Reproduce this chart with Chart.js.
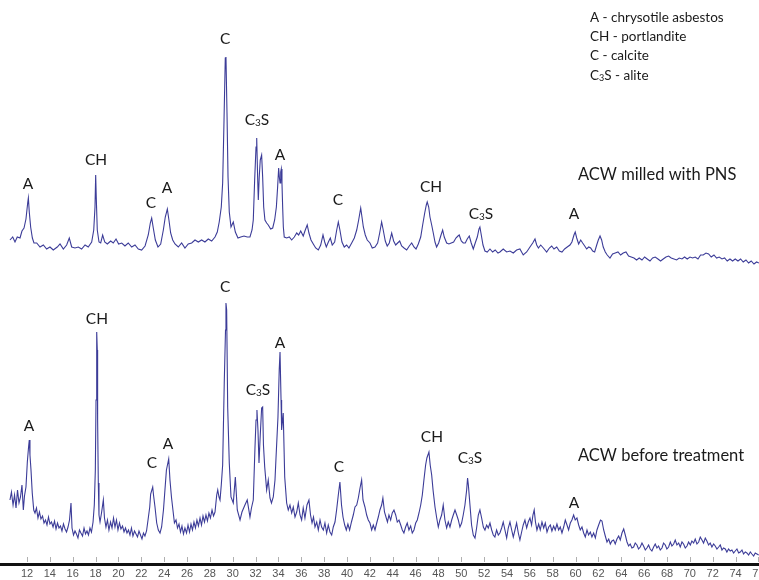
<!DOCTYPE html>
<html>
<head>
<meta charset="utf-8">
<script src="https://cdn.jsdelivr.net/npm/chart.js@4.4.1/dist/chart.umd.min.js"></script>
<style>
  html, body { margin: 0; padding: 0; background: #fff; overflow: hidden; }
  #wrap { width: 759px; height: 580px; position: relative; }
</style>
</head>
<body>
<div id="wrap"><canvas id="chart"></canvas></div>
<script>
// [2theta (deg), intensity (a.u.)] (ACW milled with PNS)
const milledScan = [
  [10.51,44],[10.75,47],[10.95,42],[11.15,47],[11.39,46],[11.56,53],[11.74,56],[11.91,65],[12.06,81],[12.12,86],[12.20,72],[12.32,57],[12.47,46],[12.61,41],[12.85,41],[13.14,37],[13.43,39],[13.72,35],[14.01,37],[14.30,34],[14.65,37],[14.89,40],[15.18,35],[15.47,39],[15.70,46],[15.91,37],[16.20,36],[16.49,37],[16.78,35],[17.08,39],[17.36,37],[17.66,42],[17.84,54],[17.95,77],[18.01,109],[18.06,87],[18.15,54],[18.30,42],[18.45,41],[18.62,49],[18.80,42],[19.03,40],[19.32,43],[19.55,41],[19.79,45],[20.02,40],[20.29,41],[20.57,38],[20.86,41],[21.16,37],[21.45,39],[21.74,35],[22.03,34],[22.33,38],[22.61,49],[22.79,61],[22.91,66],[23.05,56],[23.23,44],[23.46,37],[23.70,40],[23.93,54],[24.10,67],[24.28,75],[24.42,64],[24.57,51],[24.75,44],[24.95,40],[25.24,37],[25.53,41],[25.82,36],[26.11,40],[26.41,41],[26.70,44],[26.99,42],[27.28,44],[27.57,42],[27.86,45],[28.16,43],[28.45,47],[28.65,52],[28.82,62],[29.00,77],[29.12,101],[29.24,164],[29.35,226],[29.41,227],[29.50,171],[29.59,107],[29.70,72],[29.85,57],[30.05,62],[30.23,52],[30.46,46],[30.70,47],[30.99,48],[31.27,47],
  [31.51,47],[31.69,54],[31.80,64],[31.92,104],[32.04,137],[32.10,146],[32.18,107],[32.24,84],[32.32,107],[32.41,124],[32.53,129],[32.62,107],[32.71,77],[32.82,64],[32.97,61],[33.11,59],[33.32,55],[33.50,56],[33.67,64],[33.82,77],[33.93,97],[34.02,116],[34.08,107],[34.14,101],[34.20,112],[34.25,115],[34.31,101],[34.37,77],[34.43,57],[34.51,47],[34.72,46],[34.95,47],[35.16,44],[35.39,47],[35.60,51],[35.77,49],[35.95,53],[36.17,48],[36.35,54],[36.52,59],[36.67,51],[36.85,44],[37.05,40],[37.26,36],[37.49,34],[37.70,39],[37.90,49],[38.05,42],[38.19,37],[38.37,42],[38.54,46],[38.71,39],[38.92,42],[39.10,54],[39.24,62],[39.38,54],[39.56,42],[39.76,37],[39.97,39],[40.17,36],[40.41,41],[40.64,46],[40.85,54],[41.02,64],[41.20,76],[41.31,67],[41.43,57],[41.60,49],[41.77,44],[42.01,41],[42.21,36],[42.45,37],[42.68,41],[42.86,51],[43.03,62],[43.17,54],[43.35,43],[43.52,38],[43.70,41],[43.91,51],[44.08,43],[44.26,39],[44.43,41],[44.61,43],[44.78,38],[44.99,36],[45.22,34],[45.45,38],[45.66,41],[45.86,37],[46.04,35],[46.24,40],[46.45,47],[46.62,59],[46.80,71],[46.94,79],[47.02,82],[47.15,77],[47.26,67],[47.41,59],[47.55,51],[47.70,42],[47.84,37],[48.02,41],[48.20,48],[48.37,54],[48.51,47],[48.72,41],[48.92,40],[49.12,41],[49.33,42],[49.53,46],[49.71,48],[49.82,49],[50.00,43],[50.17,41],[50.35,41],[50.52,45],[50.70,48],[50.87,41],[51.05,35],[51.22,41],[51.40,47],[51.55,55],[51.63,57],[51.75,49],[51.90,39],[52.07,33],[52.27,32],[52.51,35],[52.74,32],[52.97,34],[53.21,31],
  [53.38,32],[53.67,35],[53.97,32],[54.26,33],[54.55,31],[54.84,34],[55.13,35],[55.42,29],[55.72,32],[56.01,37],[56.25,41],[56.45,45],[56.60,39],[56.75,36],[56.95,39],[57.18,36],[57.47,32],[57.71,36],[57.91,38],[58.11,35],[58.35,37],[58.58,33],[58.81,32],[59.04,35],[59.27,37],[59.51,39],[59.68,42],[59.86,49],[59.97,52],[60.10,46],[60.27,40],[60.45,44],[60.62,41],[60.80,38],[60.97,35],[61.15,37],[61.32,36],[61.50,33],[61.67,32],[61.85,39],[61.99,44],[62.14,48],[62.28,44],[62.42,37],[62.60,32],[62.77,29],[63.01,26],[63.24,30],[63.47,31],[63.71,32],[63.94,29],[64.17,31],[64.41,32],[64.64,28],[64.87,27],[65.11,26],[65.34,24],[65.57,26],[65.81,24],[66.04,27],[66.27,25],[66.51,23],[66.74,26],[66.97,27],[67.21,25],[67.44,23],[67.67,25],[67.91,27],[68.14,28],[68.37,26],[68.61,25],[68.84,24],[69.07,26],[69.31,25],[69.54,27],[69.77,25],[70.01,27],[70.24,26],[70.47,27],[70.71,25],[70.94,29],[71.17,29],[71.41,31],[71.64,30],[71.87,27],[72.11,29],[72.34,26],[72.57,27],[72.81,25],[73.04,26],[73.27,23],[73.51,25],[73.74,23],[73.97,25],[74.21,23],[74.44,25],[74.67,22],[74.91,24],[75.14,21],[75.37,23],[75.61,20],[75.84,22],[76.04,21]
];

// [2theta (deg), intensity (a.u.)] (ACW before treatment)
const rawScan = [
  [10.51,64],[10.64,72],[10.78,59],[10.91,69],[11.04,56],[11.17,74],[11.30,61],[11.43,67],[11.56,79],[11.68,54],[11.78,68],[11.91,77],[12.03,102],[12.13,116],[12.20,124],[12.26,109],[12.35,94],[12.46,71],[12.59,54],[12.70,51],[12.83,56],[12.96,46],[13.09,52],[13.22,45],[13.36,48],[13.49,41],[13.62,44],[13.75,39],[13.88,47],[14.01,40],[14.14,42],[14.28,37],[14.41,43],[14.54,35],[14.67,41],[14.80,36],[14.93,38],[15.06,33],[15.19,40],[15.33,35],[15.46,32],[15.59,37],[15.72,44],[15.85,61],[15.94,36],[16.07,29],[16.20,33],[16.33,30],[16.46,26],[16.59,34],[16.72,31],[16.86,28],[16.99,36],[17.12,30],[17.25,33],[17.38,29],[17.51,36],[17.64,32],[17.78,42],[17.89,59],[17.98,94],[18.04,164],[18.10,232],[18.15,214],[18.18,144],[18.24,81],[18.30,49],[18.39,42],[18.52,51],[18.68,64],[18.78,46],[18.91,37],[19.04,44],[19.17,34],[19.31,42],[19.44,36],[19.57,46],[19.70,37],[19.83,44],[19.96,34],[20.09,41],[20.22,35],[20.36,38],[20.49,32],[20.62,36],[20.75,31],[20.88,34],[21.01,29],[21.14,36],[21.27,28],[21.41,33],[21.54,30],[21.67,27],[21.80,33],[21.93,29],[22.06,25],[22.19,31],[22.32,28],[22.46,33],[22.59,44],[22.74,57],[22.82,70],[23.00,77],[23.07,69],[23.20,57],[23.35,41],[23.49,34],[23.64,31],[23.78,37],[23.94,54],[24.07,74],[24.20,94],[24.40,105],[24.51,84],[24.64,67],[24.77,54],[24.90,41],[25.04,44],[25.17,36],[25.30,40],[25.43,32],[25.56,38],[25.69,30],[25.82,36],[25.96,31],[26.09,39],[26.22,32],[26.35,40],[26.48,34],[26.61,42],[26.74,36],[26.87,44],[27.00,38],[27.14,46],[27.27,39],[27.40,48],[27.53,42],[27.66,49],[27.79,43],[27.92,51],[28.05,46],[28.19,54],[28.32,48],[28.45,52],[28.60,69],[28.69,74],[28.80,67],[28.89,64],[29.00,79],[29.12,99],[29.26,181],[29.37,234],[29.41,261],[29.47,254],[29.56,157],[29.70,101],[29.85,67],[30.05,61],[30.23,87],[30.40,54],[30.64,44],[30.81,52],[31.07,59],[31.27,64],
  [31.51,47],[31.64,56],[31.80,64],[31.95,117],[32.04,144],[32.12,154],[32.21,134],[32.30,101],[32.39,124],[32.53,156],[32.62,157],[32.69,119],[32.80,97],[32.97,74],[33.11,84],[33.26,66],[33.39,61],[33.55,67],[33.70,84],[33.78,104],[33.96,147],[34.07,194],[34.14,212],[34.23,164],[34.28,134],[34.42,151],[34.55,87],[34.72,61],[34.86,54],[35.01,59],[35.16,51],[35.30,57],[35.45,47],[35.60,52],[35.74,61],[35.89,49],[36.03,44],[36.17,56],[36.32,46],[36.50,59],[36.67,64],[36.81,49],[36.94,41],[37.07,47],[37.20,37],[37.35,42],[37.49,34],[37.64,44],[37.78,37],[37.93,34],[38.07,41],[38.22,31],[38.36,39],[38.51,32],[38.66,29],[38.80,37],[38.95,42],[39.09,54],[39.24,69],[39.38,82],[39.52,59],[39.65,47],[39.80,39],[39.94,34],[40.08,40],[40.23,34],[40.39,42],[40.55,49],[40.70,57],[40.85,59],[40.99,66],[41.14,76],[41.28,84],[41.40,64],[41.57,57],[41.72,49],[41.86,44],[42.01,41],[42.16,34],[42.30,39],[42.45,34],[42.60,41],[42.74,47],[42.88,54],[43.03,59],[43.14,66],[43.28,52],[43.41,47],[43.54,42],[43.67,49],[43.82,44],[43.96,51],[44.11,54],[44.26,49],[44.40,42],[44.55,44],[44.70,39],[44.84,34],[44.98,31],[45.13,37],[45.27,41],[45.42,34],[45.57,38],[45.71,31],[45.86,34],[46.01,41],[46.15,44],[46.30,51],[46.45,59],[46.59,69],[46.73,84],[46.88,99],[46.99,106],[47.17,112],[47.28,99],[47.41,89],[47.53,74],[47.70,57],[47.85,46],[47.99,37],[48.13,44],[48.28,49],[48.42,59],[48.57,44],[48.72,36],[48.86,42],[49.01,37],[49.16,44],[49.30,49],[49.45,54],[49.60,49],[49.74,44],[49.88,37],[50.03,41],[50.17,49],[50.32,59],[50.47,74],[50.55,86],[50.62,79],[50.76,59],[50.90,39],[51.05,29],[51.20,26],[51.34,36],[51.49,49],[51.63,54],[51.78,46],[51.93,37],[52.07,34],[52.22,39],[52.36,36],[52.51,41],[52.66,34],[52.80,29],[52.94,27],[53.09,34],[53.24,29],
  [53.38,31],[53.53,36],[53.67,42],[53.82,34],[53.97,26],[54.11,36],[54.26,42],[54.41,34],[54.55,27],[54.70,34],[54.84,41],[54.99,31],[55.13,24],[55.28,32],[55.42,39],[55.57,44],[55.72,36],[55.86,42],[56.01,46],[56.15,39],[56.27,49],[56.38,54],[56.49,42],[56.62,34],[56.77,40],[56.91,34],[57.06,42],[57.21,36],[57.35,41],[57.50,32],[57.65,37],[57.79,39],[57.93,33],[58.08,38],[58.22,34],[58.37,40],[58.52,34],[58.66,37],[58.81,31],[58.96,37],[59.10,44],[59.25,39],[59.39,34],[59.54,41],[59.68,44],[59.83,49],[59.97,44],[60.12,46],[60.27,39],[60.41,34],[60.56,37],[60.71,31],[60.85,27],[61.00,34],[61.14,29],[61.29,32],[61.43,27],[61.58,31],[61.73,26],[61.87,34],[62.02,39],[62.18,44],[62.31,43],
  [62.46,34],[62.60,28],[62.75,22],[62.90,25],[63.04,20],[63.18,23],[63.33,24],[63.47,20],[63.62,25],[63.77,28],[63.91,24],[64.06,31],[64.21,35],[64.35,29],[64.50,22],[64.64,18],[64.78,20],[64.93,16],[65.08,17],[65.22,21],[65.37,19],[65.51,15],[65.66,17],[65.81,21],[65.95,18],[66.10,14],[66.24,16],[66.39,19],[66.53,15],[66.68,13],[66.83,17],[66.97,20],[67.12,16],[67.26,18],[67.41,14],[67.56,16],[67.70,21],[67.85,19],[67.99,15],[68.14,17],[68.29,22],[68.43,18],[68.58,20],[68.72,24],[68.87,19],[69.02,21],[69.16,17],[69.31,22],[69.45,20],[69.60,16],[69.75,18],[69.89,22],[70.04,19],[70.18,23],[70.33,21],[70.47,25],[70.62,20],[70.77,22],[70.91,27],[71.06,24],[71.20,21],[71.35,26],[71.49,23],[71.64,19],[71.78,21],[71.93,17],[72.08,20],[72.22,18],[72.37,15],[72.52,17],[72.66,19],[72.81,14],[72.95,16],[73.10,15],[73.24,12],[73.39,15],[73.53,13],[73.68,14],[73.83,11],[73.97,13],[74.12,15],[74.27,11],[74.41,12],[74.56,14],[74.70,10],[74.85,12],[74.99,11],[75.14,9],[75.29,12],[75.43,10],[75.58,8],[75.72,11],[75.87,10],[76.02,9]
];

const milledOffset = 280;   // upper pattern is shifted up by this much

const tickLabels = [12, 14, 16, 18, 20, 22, 24, 26, 28, 30, 32, 34, 36, 38, 40, 42, 44, 46, 48, 50,
                    52, 54, 56, 58, 60, 62, 64, 66, 68, 70, 72, 74, 76];

// phase labels over the peaks: [text, 2theta, height on the plot]
const peakLabels = [
  ['A', 12.09, 381], ['CH', 18.04, 405], ['C', 22.85, 362], ['A', 24.25, 377], ['C', 29.33, 526],
  ['C₃S', 32.12, 445], ['A', 34.14, 410], ['C', 39.21, 365], ['CH', 47.35, 378], ['C₃S', 51.72, 351],
  ['A', 59.86, 351],
  ['A', 12.18, 139], ['CH', 18.12, 246], ['C', 22.94, 102], ['A', 24.34, 121], ['C', 29.33, 278],
  ['C₃S', 32.21, 175], ['A', 34.14, 222], ['C', 39.30, 98], ['CH', 47.43, 128], ['C₃S', 50.76, 107],
  ['A', 59.86, 62]
];

const sampleNames = [
  ['ACW milled with PNS', 60.21, 390],
  ['ACW before treatment', 60.21, 109]
];

const phaseKey = ['A - chrysotile asbestos', 'CH - portlandite', 'C - calcite', 'C₃S - alite'];

const FONT = 'Lato, "Open Sans", "Noto Sans", sans-serif';

// draws text, rendering ₃ as a small 3
function drawRich(ctx, text, x, y, size, align) {
    const parts = [];
    for (const ch of text) {
        if (ch === '₃') parts.push({ t: '3', s: Math.round(size * 0.66), dy: 1 });
        else if (parts.length && parts[parts.length - 1].s === size) parts[parts.length - 1].t += ch;
        else parts.push({ t: ch, s: size, dy: 0 });
    }
    let w = 0;
    parts.forEach(p => { ctx.font = p.s + 'px ' + FONT; p.w = ctx.measureText(p.t).width; w += p.w; });
    let cx = align === 'center' ? x - w / 2 : x;
    ctx.textAlign = 'left';
    ctx.textBaseline = 'alphabetic';
    parts.forEach(p => {
        ctx.font = p.s + 'px ' + FONT;
        ctx.fillText(p.t, cx, y + size * 0.36 + p.dy);
        cx += p.w;
    });
}

const textPlugin = {
    id: 'texts',
    afterDraw(chart) {
        const { ctx, scales: { x, y } } = chart;
        ctx.save();

        // little inner tick marks above the axis
        ctx.strokeStyle = '#b0b0b0';
        ctx.lineWidth = 1;
        tickLabels.forEach(v => {
            const px = Math.round(x.getPixelForValue(v)) + 0.5;
            ctx.beginPath();
            ctx.moveTo(px, y.bottom - 7);
            ctx.lineTo(px, y.bottom - 2);
            ctx.stroke();
        });

        ctx.fillStyle = '#1a1a1a';
        peakLabels.forEach(([t, th, v]) => {
            drawRich(ctx, t, x.getPixelForValue(th), y.getPixelForValue(v), 15.5, 'center');
        });
        sampleNames.forEach(([t, th, v]) => {
            drawRich(ctx, t, x.getPixelForValue(th), y.getPixelForValue(v), 16.5, 'left');
        });
        const keyX = x.getPixelForValue(61.26);
        phaseKey.forEach((t, i) => {
            drawRich(ctx, t, keyX, y.getPixelForValue(547) + i * 19.3, 13.5, 'left');
        });
        ctx.restore();
    }
};

new Chart(document.getElementById('chart'), {
    type: 'line',
    data: {
        datasets: [
            {
                label: 'ACW milled with PNS',
                data: milledScan.map(([t, c]) => ({ x: t, y: c + milledOffset })),
                borderColor: '#3c3c98',
                borderWidth: 1.1,
                pointRadius: 0,
                tension: 0
            },
            {
                label: 'ACW before treatment',
                data: rawScan.map(([t, c]) => ({ x: t, y: c })),
                borderColor: '#3c3c98',
                borderWidth: 1.1,
                pointRadius: 0,
                tension: 0
            }
        ]
    },
    options: {
        responsive: true,
        maintainAspectRatio: false,
        animation: false,
        layout: { padding: 0 },
        plugins: {
            legend: { display: false },
            title: { display: false },
            tooltip: { enabled: false }
        },
        scales: {
            x: {
                type: 'linear',
                min: 9.638,
                max: 76.05,
                afterBuildTicks: (scale) => {
                    scale.ticks = tickLabels.map(v => ({ value: v }));
                },
                afterFit: (scale) => {
                    scale.paddingLeft = 0;
                    scale.paddingRight = 0;
                    scale.height = 16;
                },
                grid: { display: true, drawOnChartArea: false, drawTicks: false },
                border: { display: true, color: '#111', width: 3 },
                ticks: {
                    autoSkip: false,
                    maxRotation: 0,
                    padding: 3,
                    color: '#555',
                    font: { family: '"Liberation Sans", Arial, sans-serif', size: 11 }
                }
            },
            y: {
                display: false,
                min: 0,
                max: 564
            }
        }
    },
    plugins: [textPlugin]
});
</script>
</body>
</html>
